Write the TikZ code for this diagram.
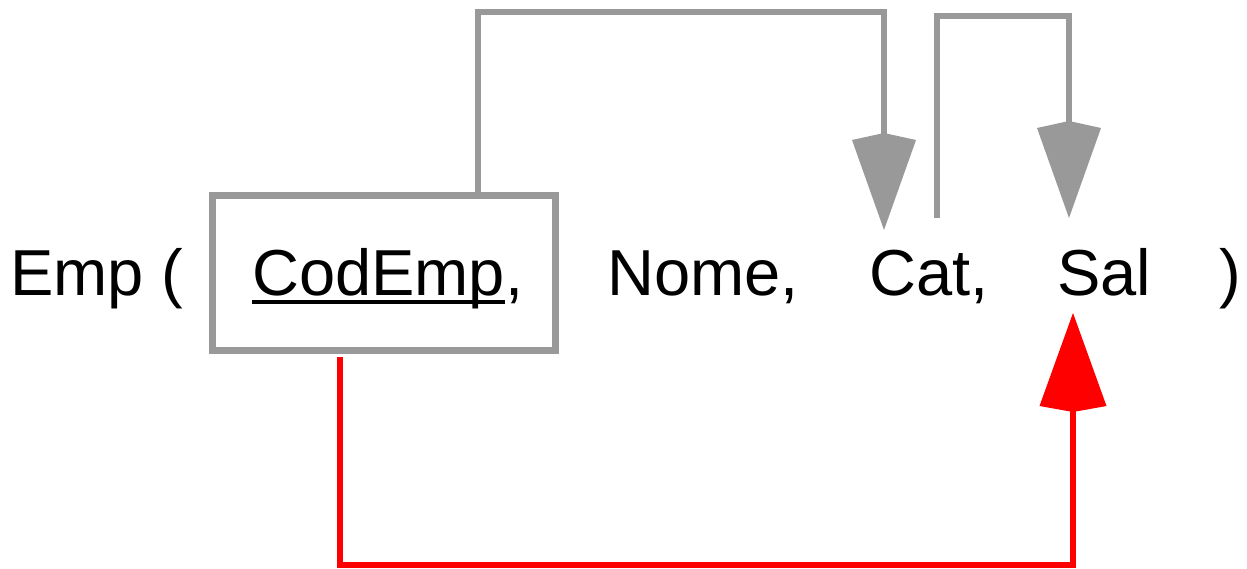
\documentclass[tikz,border=0pt]{standalone}
\usepackage{fontspec}
\setmainfont{Liberation Sans}
\usetikzlibrary{arrows.meta}
\definecolor{lgray}{HTML}{999999}
\definecolor{lred}{HTML}{FF0000}
\newcommand\myuline[1]{\setbox0\hbox{#1}\rlap{\rule[-9pt]{\wd0}{4pt}}#1}
\begin{document}
\begin{tikzpicture}[x=1pt,y=-1pt,
  txt/.style={anchor=base west, inner sep=0pt, font=\fontsize{65}{78}\selectfont},
  keybox/.style={draw=lgray, line width=7pt, minimum width=343pt, minimum height=155pt, inner sep=0pt},
  gconn/.style={draw=lgray, line width=6.5pt, line join=miter, -{Kite[length=97pt,width=64pt,inset=7pt]}},
  rconn/.style={draw=lred, line width=5.5pt, line join=miter, -{Kite[length=99pt,width=67pt,inset=6pt]}}
]
\useasboundingbox (0,0) rectangle (1247,568);
\fill[white] (0,0) rectangle (1247,568);

\node[keybox] (box) at (383.5,272.5) {};
\node[txt] (emp) at (10,295) {Emp (};
\node[txt] (cod) at (252,295) {\myuline{CodEmp},};
\node[txt] (nome) at (607,295) {Nome,};
\node[txt] (cat) at (869,295) {Cat,};
\node[txt] (sal) at (1057,295) {Sal};
\node[txt] (close) at (1219,295) {)};

\coordinate (g1s) at (box.north -| 478,0);
\coordinate (g1t) at (884,230);
\coordinate (g2s) at (937,218);
\coordinate (g2t) at (1069,218);
\coordinate (r1s) at (340,357);
\coordinate (r1t) at (1073,313);

\draw[gconn] (g1s) -- (478,12) -- (884,12) -- (g1t);
\draw[gconn] (g2s) -- (937,16) -- (1069,16) -- (g2t);
\draw[rconn] (r1s) -- (340,565) -- (1073,565) -- (r1t);
\end{tikzpicture}
\end{document}
